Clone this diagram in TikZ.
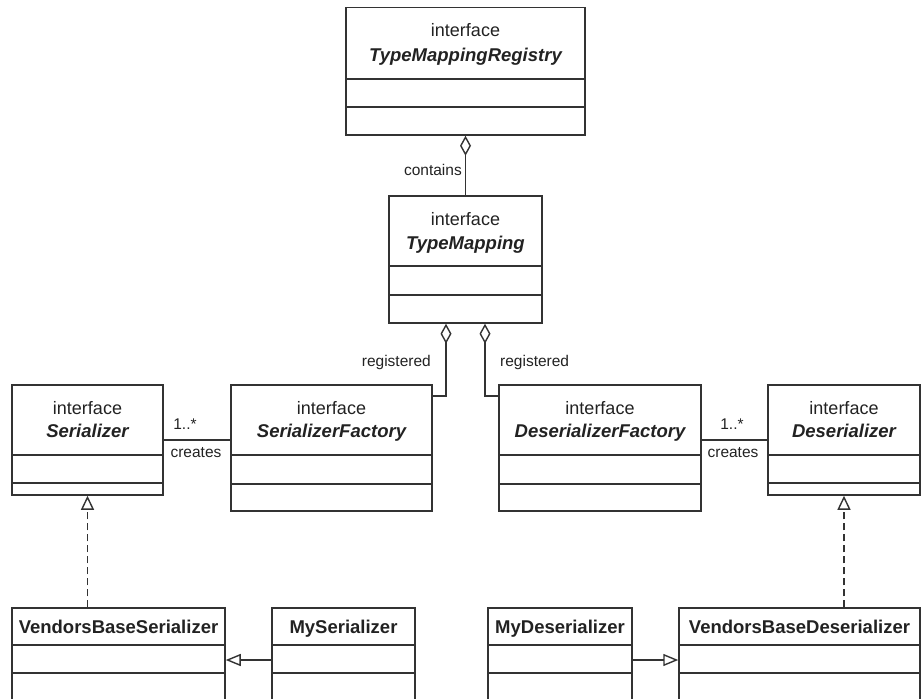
\documentclass[tikz,border=0pt]{standalone}
\usepackage{fontspec}
\setmainfont{Liberation Sans}
\usetikzlibrary{arrows.meta}
\definecolor{ink}{HTML}{222222}
\definecolor{edge}{HTML}{333333}
\tikzset{
  cls/.style={draw=edge, line width=1.5pt, rectangle, inner sep=0pt},
  sepline/.style={draw=edge, line width=1.5pt},
  stereo/.style={font=\fontsize{18}{20}\selectfont, text=ink, inner sep=0pt, anchor=base},
  iname/.style={font=\fontsize{18.5}{20}\selectfont\bfseries\itshape, text=ink, inner sep=0pt, anchor=base},
  cname/.style={font=\fontsize{18.5}{20}\selectfont\bfseries, text=ink, inner sep=0pt, anchor=base},
  lbl/.style={font=\fontsize{15.5}{17}\selectfont, text=ink, inner sep=0pt, anchor=base},
  conn/.style={draw=edge, line width=1.4pt},
  aggr/.style={conn, {Diamond[open, length=20pt, width=11pt]}-},
  realize/.style={conn, dash pattern=on 7pt off 4pt, -{Triangle[open, length=14pt, width=13pt]}},
  inherit/.style={conn, -{Triangle[open, length=15pt, width=12pt]}},
}
% horizontal compartment separator across a class box
\newcommand\umlsep[2]{\draw[sepline] (#1.west |- 0,#2) -- (#1.east |- 0,#2);}
\begin{document}
\begin{tikzpicture}[x=1pt, y=-1pt]
\clip (0,0) rectangle (922,699);

% class boxes
\node[cls, minimum width=239pt, minimum height=127.5pt] (reg) at (465.5,71.25) {};
\node[cls, minimum width=153pt, minimum height=127pt] (tm) at (465.5,259.5) {};
\node[cls, minimum width=151pt, minimum height=110pt] (ser) at (87.5,440) {};
\node[cls, minimum width=201pt, minimum height=126pt] (sf) at (331.5,448) {};
\node[cls, minimum width=202pt, minimum height=126pt] (df) at (600,448) {};
\node[cls, minimum width=152pt, minimum height=110pt] (des) at (844,440) {};
\node[cls, minimum width=213pt, minimum height=104pt] (vbs) at (118.5,660) {};
\node[cls, minimum width=143pt, minimum height=104pt] (mys) at (343.5,660) {};
\node[cls, minimum width=144pt, minimum height=104pt] (myd) at (560,660) {};
\node[cls, minimum width=241pt, minimum height=104pt] (vbd) at (799.5,660) {};

% compartments
\umlsep{reg}{79}\umlsep{reg}{107}
\umlsep{tm}{266}\umlsep{tm}{295}
\umlsep{ser}{455}\umlsep{ser}{483}
\umlsep{sf}{455}\umlsep{sf}{484}
\umlsep{df}{455}\umlsep{df}{484}
\umlsep{des}{455}\umlsep{des}{483}
\umlsep{vbs}{645}\umlsep{vbs}{673}
\umlsep{mys}{645}\umlsep{mys}{673}
\umlsep{myd}{645}\umlsep{myd}{673}
\umlsep{vbd}{645}\umlsep{vbd}{673}

% names
\node[stereo] (reg-s) at (465.5,36.5) {interface};
\node[iname] (reg-n) at (465.5,61.5) {TypeMappingRegistry};
\node[stereo] (tm-s) at (465.5,225) {interface};
\node[iname] (tm-n) at (465.5,249) {TypeMapping};
\node[stereo] (ser-s) at (87.5,414) {interface};
\node[iname] (ser-n) at (87.5,437) {Serializer};
\node[stereo] (sf-s) at (331.5,414) {interface};
\node[iname] (sf-n) at (331.5,437) {SerializerFactory};
\node[stereo] (df-s) at (600,414) {interface};
\node[iname] (df-n) at (600,437) {DeserializerFactory};
\node[stereo] (des-s) at (844,414) {interface};
\node[iname] (des-n) at (844,437) {Deserializer};
\node[cname] (vbs-n) at (118.5,633) {VendorsBaseSerializer};
\node[cname] (mys-n) at (343.5,633) {MySerializer};
\node[cname] (myd-n) at (560,633) {MyDeserializer};
\node[cname] (vbd-n) at (799.5,633) {VendorsBaseDeserializer};

% aggregations
\draw[aggr] (reg.south) -- (tm.north);
\draw[aggr] ([xshift=-19.5pt]tm.south) |- ([yshift=52pt]sf.east);
\draw[aggr] ([xshift=19.5pt]tm.south) |- ([yshift=52pt]df.west);

% associations
\draw[conn] (ser.east) -- (ser.east -| sf.west);
\draw[conn] (des.west) -- (des.west -| df.east);

% realizations
\draw[realize] (vbs.north -| ser.south) -- (ser.south);
\draw[realize] (vbd.north -| des.south) -- (des.south);

% generalizations
\draw[inherit] (mys.west) -- (vbs.east);
\draw[inherit] (myd.east) -- (vbd.west);

% connector labels
\node[lbl, anchor=base east] (l-contains) at (462,175) {contains};
\node[lbl, anchor=base east] (l-reg1) at (431,366) {registered};
\node[lbl, anchor=base west] (l-reg2) at (500,366) {registered};
\node[lbl] (l-m1) at (185,429) {1..*};
\node[lbl] (l-c1) at (196,457) {creates};
\node[lbl] (l-m2) at (732,429) {1..*};
\node[lbl] (l-c2) at (733,457) {creates};
\end{tikzpicture}
\end{document}
